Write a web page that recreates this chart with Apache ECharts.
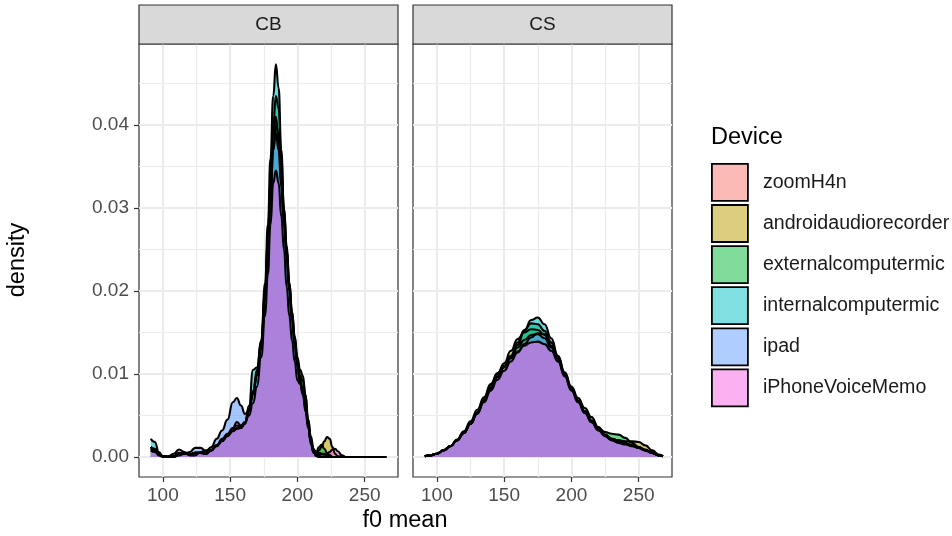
<!DOCTYPE html>
<html><head><meta charset="utf-8">
<script src="https://cdn.jsdelivr.net/npm/echarts@6/dist/echarts.min.js"></script>
<style>html,body{margin:0;padding:0;background:#fff}#c{width:952px;height:536px}</style>
</head><body><div id="c"></div>
<script>
const panels = ['CB', 'CS'];
const devices = ['zoomH4n', 'androidaudiorecorder', 'externalcomputermic', 'internalcomputermic', 'ipad', 'iPhoneVoiceMemo'];
const fills = ['#F8766D', '#B79F00', '#00BA38', '#00BFC4', '#619CFF', '#F564E3'];
const xTicks = [100, 150, 200, 250];
const xMinor = [125, 175, 225];
const yTicks = [0, 0.01, 0.02, 0.03, 0.04];
const yMinor = [0.005, 0.015, 0.025, 0.035, 0.045];

// CB panel: f0 mean grid and density per device
const xCB = [91,94,97,100,104,108,112,116,120,124,128,132,136,140,144,148,152,155,158,161,164,167,170,173,176,178,180,182,184,186,188,190,192,194,196,198,200,202,204,206,208,210,212,214,216,218,220,222,224,226,228,230,233,236,240,250,266];
const cbZoomH4n = [0.0010,0.0008,0.0003,0.0001,0,0.0001,0.0004,0.0004,0.0003,0.0005,
  0.0005,0.0004,0.0008,0.0013,0.0019,0.0025,0.0031,0.0034,0.0035,0.0041,
  0.0055,0.0075,0.0098,0.0132,0.0195,0.0260,0.0330,0.0390,0.0410,0.0380,
  0.0330,0.0285,0.0240,0.0200,0.0165,0.0135,0.0110,0.0090,0.0078,0.0060,
  0.0038,0.0018,0.0006,0.0002,0.0002,0.0003,0.0003,0.0002,0.0001,0,
  0,0,0,0,0,0,0];
const cbAndroid = [0.0012,0.0010,0.0004,0.0001,0,0.0001,0.0005,0.0004,0.0003,0.0005,
  0.0005,0.0004,0.0008,0.0014,0.0020,0.0026,0.0032,0.0035,0.0035,0.0040,
  0.0055,0.0078,0.0100,0.0135,0.0190,0.0250,0.0310,0.0370,0.0400,0.0390,
  0.0345,0.0295,0.0250,0.0210,0.0175,0.0145,0.0120,0.0105,0.0098,0.0075,
  0.0040,0.0015,0.0005,0.0004,0.0008,0.0012,0.0019,0.0024,0.0022,0.0012,
  0.0004,0.0001,0,0,0,0,0];
const cbExternal = [0.0008,0.0006,0.0003,0.0001,0,0.0001,0.0004,0.0004,0.0003,0.0005,
  0.0005,0.0004,0.0008,0.0014,0.0020,0.0027,0.0032,0.0034,0.0035,0.0042,
  0.0058,0.0080,0.0105,0.0140,0.0200,0.0260,0.0330,0.0400,0.0435,0.0420,
  0.0360,0.0300,0.0255,0.0210,0.0175,0.0145,0.0115,0.0098,0.0092,0.0075,
  0.0045,0.0020,0.0008,0.0006,0.0012,0.0015,0.0010,0.0005,0.0002,0,
  0,0,0,0,0,0,0];
const cbInternal = [0.0022,0.0018,0.0006,0.0001,0,0,0.0003,0.0004,0.0003,0.0005,
  0.0005,0.0004,0.0008,0.0014,0.0020,0.0027,0.0035,0.0038,0.0036,0.0040,
  0.0062,0.0105,0.0108,0.0140,0.0210,0.0280,0.0360,0.0435,0.0473,0.0445,
  0.0370,0.0300,0.0250,0.0205,0.0170,0.0140,0.0115,0.0095,0.0080,0.0065,
  0.0045,0.0025,0.0010,0.0003,0.0002,0.0004,0.0004,0.0003,0.0002,0,
  0,0,0,0,0,0,0];
const cbIpad = [0.0012,0.0009,0.0003,0.0001,0,0,0.0002,0.0004,0.0006,0.0011,
  0.0011,0.0007,0.0012,0.0022,0.0032,0.0045,0.0066,0.0071,0.0062,0.0052,
  0.0056,0.0078,0.0100,0.0130,0.0190,0.0250,0.0310,0.0370,0.0390,0.0370,
  0.0325,0.0280,0.0240,0.0200,0.0165,0.0135,0.0110,0.0090,0.0078,0.0060,
  0.0038,0.0018,0.0006,0.0001,0,0,0,0,0,0,
  0,0,0,0,0,0,0];
const cbIphone = [0.0012,0.0008,0.0002,0,0.0001,0.0004,0.0009,0.0006,0.0002,0.0002,
  0.0006,0.0008,0.0009,0.0014,0.0022,0.0028,0.0035,0.0042,0.0038,0.0042,
  0.0050,0.0065,0.0085,0.0120,0.0170,0.0220,0.0280,0.0330,0.0345,0.0330,
  0.0290,0.0250,0.0205,0.0170,0.0140,0.0115,0.0092,0.0088,0.0075,0.0055,
  0.0035,0.0018,0.0008,0.0005,0.0005,0.0004,0.0003,0.0004,0.0006,0.0009,
  0.0010,0.0007,0.0002,0,0,0,0];

// CS panel
const xCS = [91,95,100,105,110,115,120,125,130,135,140,145,150,155,160,165,170,175,180,185,190,195,200,205,210,215,220,225,230,235,240,245,250,255,260,265,268];
const csZoomH4n = [0.0001,0.0002,0.0004,0.0008,0.0013,0.0020,0.0029,0.0040,0.0053,0.0067,
  0.0082,0.0096,0.0108,0.0120,0.0132,0.0141,0.0147,0.0148,0.0143,0.0132,
  0.0117,0.0100,0.0083,0.0067,0.0054,0.0043,0.0034,0.0026,0.0021,0.0018,
  0.0016,0.0014,0.0011,0.0008,0.0005,0.0002,0.0001];
const csAndroid = [0.0001,0.0002,0.0004,0.0008,0.0013,0.0020,0.0029,0.0040,0.0054,0.0070,
  0.0086,0.0100,0.0113,0.0128,0.0142,0.0150,0.0154,0.0153,0.0147,0.0134,
  0.0116,0.0097,0.0080,0.0066,0.0053,0.0042,0.0033,0.0026,0.0022,0.0020,
  0.0019,0.0019,0.0018,0.0014,0.0008,0.0003,0.0001];
const csExternal = [0.0001,0.0002,0.0004,0.0008,0.0013,0.0020,0.0029,0.0040,0.0053,0.0068,
  0.0083,0.0097,0.0109,0.0122,0.0138,0.0153,0.0161,0.0160,0.0152,0.0138,
  0.0119,0.0099,0.0082,0.0068,0.0055,0.0044,0.0035,0.0030,0.0028,0.0027,
  0.0023,0.0017,0.0012,0.0008,0.0005,0.0002,0.0001];
const csInternal = [0.0001,0.0002,0.0004,0.0008,0.0013,0.0020,0.0029,0.0040,0.0053,0.0068,
  0.0083,0.0097,0.0109,0.0121,0.0135,0.0152,0.0165,0.0168,0.0160,0.0143,
  0.0122,0.0102,0.0085,0.0071,0.0059,0.0048,0.0036,0.0027,0.0022,0.0020,
  0.0017,0.0014,0.0011,0.0008,0.0005,0.0002,0.0001];
const csIpad = [0.0001,0.0002,0.0004,0.0008,0.0013,0.0020,0.0029,0.0040,0.0052,0.0066,
  0.0080,0.0093,0.0104,0.0115,0.0126,0.0136,0.0144,0.0149,0.0148,0.0138,
  0.0121,0.0101,0.0083,0.0068,0.0055,0.0044,0.0034,0.0026,0.0021,0.0018,
  0.0016,0.0014,0.0012,0.0009,0.0005,0.0002,0.0001];
const csIphone = [0.0001,0.0002,0.0004,0.0008,0.0013,0.0021,0.0031,0.0043,0.0057,0.0072,
  0.0088,0.0101,0.0110,0.0119,0.0127,0.0134,0.0138,0.0139,0.0136,0.0128,
  0.0115,0.0099,0.0082,0.0066,0.0053,0.0042,0.0032,0.0025,0.0020,0.0017,
  0.0015,0.0013,0.0011,0.0008,0.0005,0.0002,0.0001];

const panelX = [xCB, xCS];
const panelValues = [
  [cbZoomH4n, cbAndroid, cbExternal, cbInternal, cbIpad, cbIphone],
  [csZoomH4n, csAndroid, csExternal, csInternal, csIpad, csIphone]
];

const FONT = '"Liberation Sans", Arial, Helvetica, sans-serif';
const SMALL = 19;   // tick labels, strip text
const LEG = 19.6;   // legend text
const BIG = 23.5;   // axis titles, legend title
const X_MIN = 82.25, X_MAX = 274.75;
const Y_MIN = -0.00241, Y_MAX = 0.04976;
const gridPos = [{left: 139, top: 44, width: 259, height: 433}, {left: 413, top: 44, width: 259, height: 433}];

function rgba(hex, a) {
  const n = parseInt(hex.slice(1), 16);
  return `rgba(${(n >> 16) & 255},${(n >> 8) & 255},${n & 255},${a})`;
}

const grid = gridPos.map(g => Object.assign({show: true, borderColor: '#333333', borderWidth: 1.2, backgroundColor: '#fff', containLabel: false}, g));

const xAxis = [], yAxis = [];
gridPos.forEach((g, p) => {
  xAxis.push({
    gridIndex: p, type: 'value', min: X_MIN, max: X_MAX,
    axisLine: {show: false, onZero: false},
    axisTick: {show: true, customValues: xTicks, length: 5, lineStyle: {color: '#333333', width: 1.2}},
    axisLabel: {customValues: xTicks, color: '#4D4D4D', fontSize: SMALL, margin: 9, fontFamily: FONT},
    splitLine: {show: true, lineStyle: {color: '#EBEBEB', width: 2}}
  });
  xAxis.push({
    gridIndex: p, type: 'value', min: X_MIN, max: X_MAX, position: 'bottom',
    axisLine: {show: false, onZero: false},
    axisTick: {show: false, customValues: xMinor},
    axisLabel: {show: false, customValues: xMinor},
    splitLine: {show: true, lineStyle: {color: '#EBEBEB', width: 1.2}}
  });
  yAxis.push({
    gridIndex: p, type: 'value', min: Y_MIN, max: Y_MAX,
    axisLine: {show: false, onZero: false},
    axisTick: {show: p === 0, customValues: yTicks, length: 5, lineStyle: {color: '#333333', width: 1.2}},
    axisLabel: {show: p === 0, customValues: yTicks, color: '#4D4D4D', fontSize: SMALL, margin: 10, fontFamily: FONT,
      formatter: v => Number(v).toFixed(2)},
    splitLine: {show: true, lineStyle: {color: '#EBEBEB', width: 2}}
  });
  yAxis.push({
    gridIndex: p, type: 'value', min: Y_MIN, max: Y_MAX, position: 'left',
    axisLine: {show: false, onZero: false},
    axisTick: {show: false, customValues: yMinor},
    axisLabel: {show: false, customValues: yMinor},
    splitLine: {show: true, lineStyle: {color: '#EBEBEB', width: 1.2}}
  });
});

const series = [];
panels.forEach((pn, p) => {
  devices.forEach((d, i) => {
    const xs = panelX[p], vs = panelValues[p][i];
    series.push({
      type: 'line', name: d, xAxisIndex: p * 2, yAxisIndex: p * 2,
      data: xs.map((x, k) => [x, vs[k]]),
      smooth: 0.5, smoothMonotone: 'x', showSymbol: false, symbol: 'none', silent: true,
      lineStyle: {color: '#000', width: 2.1},
      itemStyle: {color: rgba(fills[i], 0.5)},
      areaStyle: {color: rgba(fills[i], 0.58), opacity: 1},
      emphasis: {disabled: true}
    });
  });
});

const graphic = [];
panels.forEach((pn, p) => {
  const g = gridPos[p];
  graphic.push({type: 'rect', shape: {x: g.left, y: 5, width: g.width, height: 39}, style: {fill: '#D9D9D9', stroke: '#333333', lineWidth: 1.2}, z: 10});
  graphic.push({type: 'text', x: g.left + g.width / 2, y: 25, style: {text: pn, fill: '#1A1A1A', font: SMALL + 'px ' + FONT, align: 'center', verticalAlign: 'middle'}, z: 11});
});
graphic.push({type: 'text', x: 405, y: 521, style: {text: 'f0 mean', fill: '#000', font: BIG + 'px ' + FONT, align: 'center', verticalAlign: 'middle'}, z: 11});
graphic.push({type: 'text', x: 18, y: 260, rotation: Math.PI / 2, style: {text: 'density', fill: '#000', font: BIG + 'px ' + FONT, align: 'center', verticalAlign: 'middle'}, z: 11});
graphic.push({type: 'text', x: 711, y: 138, style: {text: 'Device', fill: '#000', font: BIG + 'px ' + FONT, align: 'left', verticalAlign: 'middle'}, z: 11});

const chart = echarts.init(document.getElementById('c'), null, {renderer: 'canvas'});
chart.setOption({
  animation: false,
  backgroundColor: '#fff',
  grid, xAxis, yAxis, series, graphic,
  legend: {
    orient: 'vertical', left: 711, top: 163, padding: 0,
    itemWidth: 36, itemHeight: 37, itemGap: 2.3, icon: 'rect', selectedMode: false,
    data: devices.map((d, i) => ({name: d, itemStyle: {color: rgba(fills[i], 0.5), borderColor: '#000', borderWidth: 1.8}})),
    textStyle: {fontSize: LEG, color: '#1A1A1A', fontFamily: FONT, padding: [0, 0, 0, 10]}
  }
});
</script></body></html>
